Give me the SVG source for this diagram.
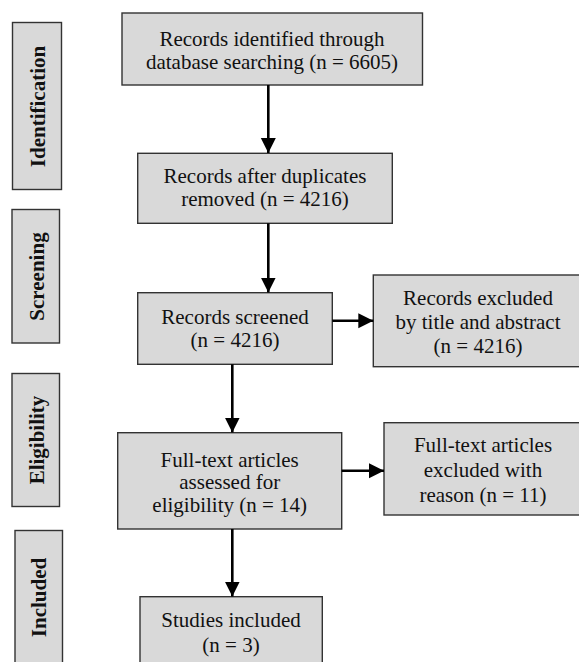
<svg xmlns="http://www.w3.org/2000/svg" width="579" height="662" viewBox="0 0 579 662">
<style>
.box{fill:#d9d9d9;stroke:#333333;stroke-width:1.4}
.t{font-family:"Liberation Serif","Times New Roman",serif;font-size:21px;fill:#111111;text-anchor:middle}
.s{font-family:"Liberation Serif","Times New Roman",serif;font-size:21px;font-weight:bold;fill:#111111;text-anchor:middle}
.c{stroke:#000000;stroke-width:2.6;fill:none}
</style>
<defs>
<marker id="ah" markerUnits="userSpaceOnUse" markerWidth="16" markerHeight="16" refX="15" refY="8" orient="auto">
<path d="M0,0.5 L15,8 L0,15.5 z" fill="#000000"/>
</marker>
</defs>
<rect width="579" height="662" fill="#ffffff"/>
<g id="stage-identification">
<rect class="box" x="12.5" y="22.5" width="49" height="167"/>
<text class="s" transform="translate(44.5,106.5) rotate(-90)">Identification</text>
</g>
<g id="stage-screening">
<rect class="box" x="12" y="209.5" width="47.5" height="133.5"/>
<text class="s" transform="translate(43.5,276.5) rotate(-90)">Screening</text>
</g>
<g id="stage-eligibility">
<rect class="box" x="12" y="373.5" width="47.5" height="133"/>
<text class="s" transform="translate(43.5,440) rotate(-90)">Eligibility</text>
</g>
<g id="stage-included">
<rect class="box" x="15" y="530.5" width="47.5" height="140"/>
<text class="s" transform="translate(46,597.5) rotate(-90)">Included</text>
</g>
<g id="n-identified">
<rect class="box" x="122" y="13" width="300.5" height="72"/>
<text class="t" x="272" y="46">Records identified through</text>
<text class="t" x="272" y="68.5">database searching (n = 6605)</text>
</g>
<g id="n-duplicates">
<rect class="box" x="137.7" y="153.3" width="254.6" height="70"/>
<text class="t" x="265" y="183.3">Records after duplicates</text>
<text class="t" x="265" y="205.5">removed (n = 4216)</text>
</g>
<g id="n-screened">
<rect class="box" x="137.7" y="292.7" width="194.6" height="71.6"/>
<text class="t" x="235" y="323.5">Records screened</text>
<text class="t" x="235" y="346.7">(n = 4216)</text>
</g>
<g id="n-excluded-title">
<rect class="box" x="373.3" y="275" width="210" height="91.7"/>
<text class="t" x="478" y="305">Records excluded</text>
<text class="t" x="478" y="329">by title and abstract</text>
<text class="t" x="478" y="353.3">(n = 4216)</text>
</g>
<g id="n-fulltext">
<rect class="box" x="117.7" y="432.7" width="224" height="96.3"/>
<text class="t" x="229.7" y="466.7">Full-text articles</text>
<text class="t" x="229.7" y="489">assessed for</text>
<text class="t" x="229.7" y="511.7">eligibility (n = 14)</text>
</g>
<g id="n-excluded-reason">
<rect class="box" x="384" y="422.7" width="200" height="92.3"/>
<text class="t" x="483" y="451.7">Full-text articles</text>
<text class="t" x="483" y="476.7">excluded with</text>
<text class="t" x="483" y="501.7">reason (n = 11)</text>
</g>
<g id="n-included">
<rect class="box" x="140" y="596.7" width="182.3" height="72"/>
<text class="t" x="231" y="626.7">Studies included</text>
<text class="t" x="231" y="651.7">(n = 3)</text>
</g>
<g id="connectors">
<line class="c" x1="268.3" y1="85" x2="268.3" y2="153" marker-end="url(#ah)"/>
<line class="c" x1="268.3" y1="223.3" x2="268.3" y2="292.5" marker-end="url(#ah)"/>
<line class="c" x1="332.3" y1="320.7" x2="373.3" y2="320.7" marker-end="url(#ah)"/>
<line class="c" x1="232.3" y1="364.3" x2="232.3" y2="432.5" marker-end="url(#ah)"/>
<line class="c" x1="341.7" y1="470.7" x2="384" y2="470.7" marker-end="url(#ah)"/>
<line class="c" x1="232.3" y1="529" x2="232.3" y2="596.5" marker-end="url(#ah)"/>
</g>
</svg>
